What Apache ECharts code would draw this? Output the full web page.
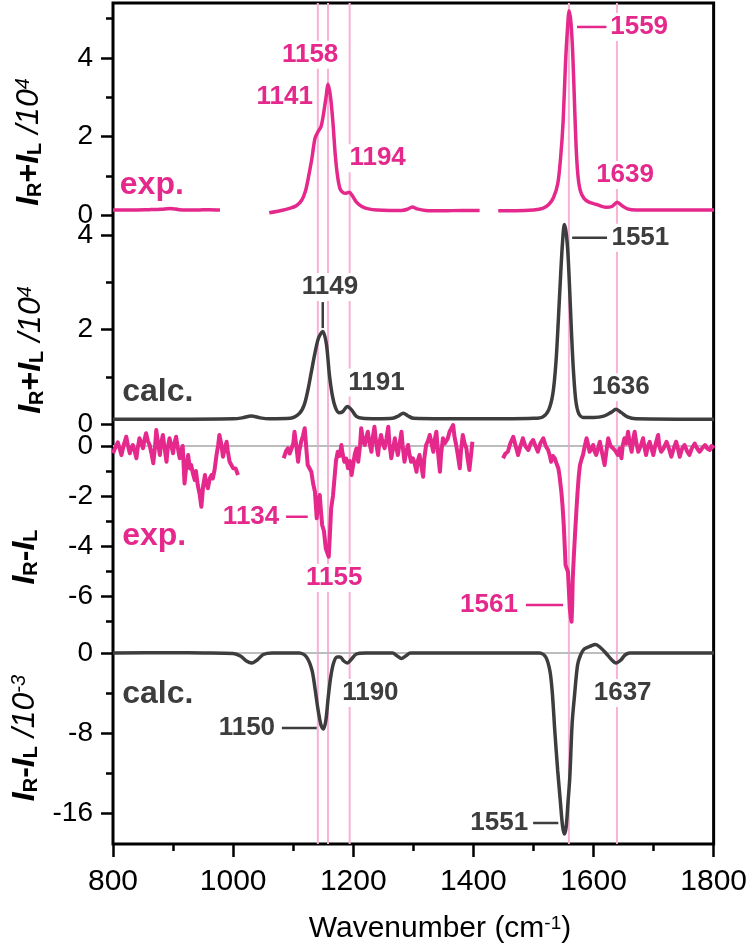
<!DOCTYPE html>
<html>
<head>
<meta charset="utf-8">
<script src="https://cdn.jsdelivr.net/npm/echarts@6/dist/echarts.min.js"></script>
<style>
html, body { margin: 0; padding: 0; background: #fff; }
#main { width: 750px; height: 947px; }
</style>
</head>
<body>
<div id="main"></div>
<script>
var expSumX = [800, 830, 860, 880, 895, 910, 940, 960, 978, 1020,
  1060, 1080, 1095, 1105, 1114, 1120, 1125, 1131, 1136, 1141, 1146, 1150, 1154, 1158, 1162, 1166, 1170, 1174, 1178,
  1183, 1188, 1193, 1198, 1205, 1214, 1225, 1240, 1260, 1280, 1290, 1298, 1306, 1320, 1350, 1380, 1410, 1425,
  1441, 1470, 1500, 1515, 1525, 1533, 1540, 1545, 1549, 1553, 1556, 1559, 1562, 1565, 1568, 1571, 1574, 1578,
  1584, 1592, 1605, 1620, 1630, 1639, 1647, 1656, 1670, 1700, 1750, 1800];
var expSumY = [0.13, 0.13, 0.14, 0.15, 0.17, 0.14, 0.13, 0.14, 0.13, null,
  0.06, 0.12, 0.18, 0.24, 0.38, 0.6, 0.95, 1.45, 1.95, 2.12, 2.25, 2.55, 2.95, 3.33, 3.0, 2.35, 1.5, 0.95, 0.66,
  0.57, 0.56, 0.58, 0.5, 0.33, 0.22, 0.16, 0.13, 0.12, 0.12, 0.15, 0.21, 0.16, 0.12, 0.11, 0.12, 0.12, null,
  0.11, 0.11, 0.13, 0.17, 0.27, 0.45, 0.8, 1.5, 2.4, 3.9, 4.7, 5.2, 4.9, 4.1, 2.8, 1.6, 0.95, 0.6,
  0.42, 0.33, 0.27, 0.2, 0.22, 0.33, 0.24, 0.16, 0.13, 0.13, 0.13, 0.13];

var calcSumX = [800, 900, 1000, 1015, 1030, 1045, 1060, 1095, 1110, 1118, 1124, 1130, 1136, 1142, 1149, 1155,
  1160, 1165, 1170, 1176, 1182, 1190, 1197, 1205, 1215, 1240, 1265, 1275, 1283, 1291, 1300, 1350, 1450, 1500,
  1515, 1525, 1532, 1537, 1541, 1545, 1548, 1551, 1554, 1557, 1560, 1563, 1566, 1570, 1575, 1582, 1600, 1615,
  1628, 1637, 1646, 1656, 1670, 1800];
var calcSumY = [0.1, 0.1, 0.11, 0.13, 0.17, 0.13, 0.11, 0.12, 0.22, 0.4, 0.7, 1.1, 1.5, 1.82, 1.96, 1.7,
  1.05, 0.6, 0.35, 0.24, 0.26, 0.37, 0.3, 0.16, 0.12, 0.11, 0.12, 0.17, 0.23, 0.17, 0.12, 0.11, 0.11, 0.12,
  0.15, 0.3, 0.65, 1.3, 2.2, 3.2, 3.85, 4.22, 4.05, 3.6, 2.8, 1.9, 1.15, 0.5, 0.22, 0.14, 0.14, 0.16,
  0.24, 0.31, 0.24, 0.15, 0.11, 0.1];

// experimental I_R - I_L, three measured segments as [wavenumber, value]
var expDiffSeg1 = [[800, -0.29], [804, -0.05], [808, 0.15], [811, -0.1], [814, -0.36], [818, 0.05], [822, 0.37],
  [825, 0], [828, -0.29], [830, -0.1], [833, 0.04], [836, -0.2], [839, -0.49], [841, -0.1], [844, 0.31],
  [847, 0.1], [850, -0.09], [852, 0.2], [855, 0.51], [858, 0.2], [861, 0.04], [864, -0.3], [867, -0.69],
  [870, 0], [872, 0.64], [875, 0.1], [878, -0.36], [880, 0.1], [883, 0.44], [886, -0.1], [889, -0.63],
  [891, -0.1], [894, 0.31], [897, 0], [900, -0.29], [902, 0.1], [905, 0.37], [908, -0.1], [911, -0.49],
  [913, -0.2], [916, 0], [919, -1.5], [922, -0.8], [925, -0.36], [928, -0.9], [930, -0.76], [933, -1.1],
  [936, -1.36], [938, -1.0], [941, -1.56], [944, -1.9], [947, -2.43], [950, -1.6], [953, -1.16], [955, -1.5],
  [958, -1.69], [961, -1.3], [964, -1.16], [966, -1.3], [969, -0.96], [972, -0.4], [975, 0.04], [977, 0.44],
  [980, 0.1], [983, -0.43], [986, -0.1], [989, 0.17], [991, -0.2], [994, -0.63], [997, -0.6], [1000, -0.89],
  [1004, -0.9], [1008, -1.16]];
var expDiffSeg2 = [[1084, -0.49], [1088, -0.2], [1091, -0.09], [1094, -0.3], [1097, -0.36], [1100, 0.1],
  [1102, 0.57], [1105, 0], [1108, -0.63], [1110, -0.2], [1113, 0.17], [1116, 0.4], [1119, 0.71], [1122, -0.2],
  [1124, -0.76], [1127, -0.7], [1130, -1.03], [1133, -1.5], [1136, -1.83], [1139, -2.89], [1141, -2.2],
  [1144, -1.96], [1146, -2.6], [1148, -3.16], [1151, -3.4], [1154, -4.09], [1157, -4.3], [1159, -4.43],
  [1161, -3.5], [1163, -2.49], [1166, -2.0], [1169, -1.16], [1171, -0.6], [1174, -0.23], [1177, -0.4],
  [1180, 0.04], [1182, -0.3], [1185, -0.63], [1188, -0.5], [1191, -0.89], [1194, -0.6], [1197, -1.16],
  [1200, -0.7], [1202, -0.36], [1205, -0.1], [1208, -0.63], [1211, 0], [1213, 0.71], [1216, 0.2], [1219, 0.04],
  [1221, 0.3], [1224, 0.57], [1227, 0.1], [1230, -0.23], [1232, 0.3], [1235, 0.77], [1238, 0.1], [1241, -0.36],
  [1243, 0.1], [1246, 0.44], [1249, 0.1], [1252, -0.09], [1255, 0.3], [1258, 0.77], [1260, 0.1], [1263, -0.49],
  [1266, -0.1], [1269, 0.31], [1271, 0], [1274, -0.36], [1277, 0.1], [1280, 0.57], [1282, 0], [1285, -0.63],
  [1288, -0.2], [1291, 0.04], [1293, -0.3], [1296, -0.63], [1299, -0.49], [1302, -0.7], [1305, -1.03],
  [1307, -0.6], [1310, -0.36], [1313, -0.8], [1316, -1.23], [1318, -0.5], [1321, 0.04], [1324, 0.2],
  [1327, 0.44], [1330, 0.1], [1333, -0.23], [1335, 0.2], [1338, 0.57], [1341, -0.3], [1344, -1.03],
  [1346, -0.3], [1349, 0.31], [1352, 0.1], [1355, 0.04], [1357, 0.3], [1360, 0.57], [1363, 0.6], [1366, 0.84],
  [1368, 0.4], [1371, 0.04], [1374, -0.4], [1377, -0.89], [1379, -0.2], [1382, 0.44], [1385, 0.1],
  [1388, -0.09], [1390, -0.5], [1393, -0.96], [1396, -0.3], [1398, 0.17]];
var expDiffSeg3 = [[1449, -0.49], [1453, -0.3], [1457, -0.23], [1461, 0.1], [1466, 0.37], [1470, 0],
  [1474, -0.36], [1478, 0], [1482, 0.31], [1486, 0], [1491, -0.16], [1495, 0.1], [1499, 0.24], [1503, 0],
  [1507, -0.23], [1511, 0.1], [1516, 0.31], [1520, 0], [1524, -0.16], [1527, -0.4], [1529, -0.63],
  [1532, -0.4], [1535, -0.49], [1538, -0.7], [1541, -0.89], [1543, -1.2], [1546, -1.83], [1548, -2.4],
  [1550, -3.16], [1552, -4.2], [1553, -4.76], [1555, -4.9], [1557, -5.03], [1559, -6.0], [1560, -6.49],
  [1562, -6.9], [1563, -7.03], [1564, -6.4], [1565, -5.29], [1567, -4.3], [1569, -3.43], [1571, -2.6],
  [1573, -1.83], [1575, -1.2], [1577, -0.76], [1580, -0.5], [1582, -0.36], [1585, 0], [1588, 0.31], [1591, 0],
  [1593, -0.23], [1596, -0.1], [1599, 0.04], [1601, -0.2], [1604, -0.36], [1607, -0.1], [1610, 0.17],
  [1614, -0.3], [1618, -0.76], [1621, -0.2], [1624, 0.31], [1628, 0], [1632, -0.09], [1636, -0.2],
  [1640, -0.36], [1643, -0.1], [1646, -0.49], [1648, 0], [1651, 0.31], [1654, 0.1], [1657, 0.57], [1660, 0.1],
  [1663, -0.23], [1665, 0.2], [1668, 0.57], [1671, 0.1], [1674, -0.23], [1678, 0], [1682, 0.31], [1684, 0],
  [1687, -0.36], [1690, 0], [1693, 0.17], [1696, -0.1], [1699, -0.36], [1703, 0.1], [1707, 0.44], [1709, 0],
  [1712, -0.23], [1716, -0.1], [1721, 0.17], [1725, -0.1], [1729, -0.43], [1733, -0.1], [1737, 0.17],
  [1740, -0.1], [1743, -0.43], [1747, -0.1], [1751, 0.04], [1755, -0.2], [1759, -0.36], [1763, -0.1],
  [1768, 0.1], [1772, -0.1], [1776, -0.23], [1780, -0.1], [1785, 0.04], [1789, -0.1], [1793, -0.16],
  [1796, 0], [1800, -0.09]];

var calcDiffX = [800, 900, 950, 1000, 1012, 1022, 1031, 1040, 1050, 1065, 1110, 1122, 1131, 1136, 1141, 1146, 1150,
  1154, 1158, 1162, 1167, 1173, 1178, 1184, 1190, 1197, 1205, 1220, 1265, 1273, 1280, 1287, 1295, 1400, 1510,
  1520, 1527, 1531, 1535, 1540, 1544, 1548, 1551, 1554, 1557, 1560, 1564, 1568, 1573, 1578, 1584, 1595, 1603,
  1610, 1620, 1630, 1637, 1645, 1652, 1660, 1800];
var calcDiffY = [0, 0.02, 0, -0.05, -0.3, -0.8, -1.0, -0.7, -0.15, 0, 0, -0.4, -1.7, -3.5, -5.6, -7.2, -7.6,
  -6.8, -4.5, -2.5, -1.0, -0.4, -0.4, -0.8, -1.0, -0.6, -0.1, 0, 0, -0.3, -0.55, -0.3, 0, 0, 0,
  -0.4, -1.8, -4.0, -7.7, -11.8, -14.6, -17.3, -18.1, -17.4, -15.0, -12.5, -7.0, -4.2, -1.2, -0.2, 0.4, 0.7, 0.85,
  0.6, 0.0, -0.7, -1.0, -0.7, -0.2, 0, 0];

var markerX = [1141, 1158, 1194, 1559, 1639];

// y ticks per panel
var p1Major = [0, 2, 4], p1Minor = [1, 3, 5];
var p2Major = [0, 2, 4], p2Minor = [1, 3];
var p3Major = [0, -2, -4, -6], p3Minor = [-1, -3, -5, -7];
var p4Major = [0, -8, -16], p4Minor = [-4, -12];

var PINK = '#e5288b', DARK = '#3d3d3d', VLINE = '#f8b2d5', ZERO = '#bdbdbd';
var FONT = '"Liberation Sans", Arial, Helvetica, sans-serif';

function pairs(xs, ys) {
    return xs.map(function (x, i) { return [x, ys[i]]; });
}

function yPair(grid, min, max, major, minor) {
    return [
        {
            gridIndex: grid, type: 'value', position: 'left', min: min, max: max,
            axisLine: { show: false }, splitLine: { show: false },
            axisTick: { show: true, length: 12, customValues: major, lineStyle: { color: '#000', width: 2.5 } },
            axisLabel: { customValues: major, fontSize: 28, color: '#000', margin: 20, fontFamily: FONT }
        },
        {
            gridIndex: grid, type: 'value', position: 'left', min: min, max: max,
            axisLine: { show: false }, splitLine: { show: false },
            axisTick: { show: true, length: 7, customValues: minor, lineStyle: { color: '#000', width: 2.5 } },
            axisLabel: { show: false }
        }
    ];
}

function hiddenX(grid) {
    return { gridIndex: grid, type: 'value', min: 800, max: 1800, show: false };
}

var chart = echarts.init(document.getElementById('main'));

var grids = [
    { left: 113, width: 601, top: 3, height: 841, show: true, borderColor: '#000', borderWidth: 3, backgroundColor: '#fff' },
    { left: 113, width: 601, top: 3, height: 220 },
    { left: 113, width: 601, top: 216.1, height: 217.35 },
    { left: 113, width: 601, top: 416, height: 225 },
    { left: 113, width: 601, top: 633, height: 211 }
];

var xAxes = [
    {
        gridIndex: 0, type: 'value', min: 800, max: 1800, interval: 200,
        axisLine: { show: false }, splitLine: { show: false },
        axisTick: { show: true, length: 13, lineStyle: { color: '#000', width: 2.5 } },
        minorTick: { show: true, splitNumber: 2, length: 7, lineStyle: { color: '#000', width: 2.5 } },
        axisLabel: { fontSize: 30, color: '#000', margin: 23, fontFamily: FONT,
                     formatter: function (v) { return String(v); } }
    },
    hiddenX(1), hiddenX(2), hiddenX(3), hiddenX(4)
];

var yAxes = [{ gridIndex: 0, type: 'value', min: 0, max: 1, show: false }]
    .concat(yPair(1, -0.2, 5.4, p1Major, p1Minor))
    .concat(yPair(2, -0.2, 4.4, p2Major, p2Minor))
    .concat(yPair(3, -7.8, 1.2, p3Major, p3Minor))
    .concat(yPair(4, -19.1, 2, p4Major, p4Minor));

var series = [];
markerX.forEach(function (w) {
    series.push({
        type: 'line', xAxisIndex: 0, yAxisIndex: 0, data: [[w, 0], [w, 1]],
        symbol: 'none', silent: true, z: 0, lineStyle: { color: VLINE, width: 2 }
    });
});
// zero reference lines
[[3, 5], [4, 7]].forEach(function (p) {
    series.push({
        type: 'line', xAxisIndex: p[0], yAxisIndex: p[1], data: [[800, 0], [1800, 0]],
        symbol: 'none', silent: true, z: 1, lineStyle: { color: ZERO, width: 2 }
    });
});
series.push(
    { type: 'line', name: 'exp sum', xAxisIndex: 1, yAxisIndex: 1, data: pairs(expSumX, expSumY),
      symbol: 'none', smooth: 0.3, lineStyle: { color: PINK, width: 3.5 }, z: 3 },
    { type: 'line', name: 'calc sum', xAxisIndex: 2, yAxisIndex: 3, data: pairs(calcSumX, calcSumY),
      symbol: 'none', smooth: 0.3, lineStyle: { color: DARK, width: 3.5 }, z: 3 },
    { type: 'line', name: 'calc diff', xAxisIndex: 4, yAxisIndex: 7, data: pairs(calcDiffX, calcDiffY),
      symbol: 'none', smooth: 0.3, lineStyle: { color: DARK, width: 3.5 }, z: 3 }
);
[expDiffSeg1, expDiffSeg2, expDiffSeg3].forEach(function (seg) {
    series.push({ type: 'line', name: 'exp diff', xAxisIndex: 3, yAxisIndex: 5, data: seg,
      symbol: 'none', lineStyle: { color: PINK, width: 4, join: 'round' }, z: 3 });
});

chart.setOption({
    animation: false,
    backgroundColor: '#fff',
    grid: grids,
    xAxis: xAxes,
    yAxis: yAxes,
    series: series
});

// annotations in data coordinates: panel, wavenumber, value
var notes = [
    { g: 1, x: 1128, y: 4.08, t: '1158', a: 'center', c: PINK },
    { g: 1, x: 1136, y: 3.0, t: '1141', a: 'right', c: PINK },
    { g: 1, x: 1190, y: 1.45, t: '1194', a: 'left', c: PINK },
    { g: 1, x: 1624, y: 4.79, t: '1559', a: 'left', c: PINK },
    { g: 1, x: 1652, y: 1.02, t: '1639', a: 'center', c: PINK },
    { g: 1, x: 808, y: 0.76, t: 'exp.', a: 'left', c: PINK, big: true },
    { g: 2, x: 1161, y: 2.9, t: '1149', a: 'center', c: DARK },
    { g: 2, x: 1188, y: 0.88, t: '1191', a: 'left', c: DARK },
    { g: 2, x: 1626, y: 3.94, t: '1551', a: 'left', c: DARK },
    { g: 2, x: 1645, y: 0.78, t: '1636', a: 'center', c: DARK },
    { g: 2, x: 812, y: 0.68, t: 'calc.', a: 'left', c: DARK, big: true },
    { g: 3, x: 812, y: -3.6, t: 'exp.', a: 'left', c: PINK, big: true },
    { g: 3, x: 1080, y: -2.83, t: '1134', a: 'right', c: PINK },
    { g: 3, x: 1168, y: -5.28, t: '1155', a: 'center', c: PINK },
    { g: 3, x: 1477, y: -6.36, t: '1561', a: 'right', c: PINK },
    { g: 4, x: 812, y: -4.1, t: 'calc.', a: 'left', c: DARK, big: true },
    { g: 4, x: 1073, y: -7.5, t: '1150', a: 'right', c: DARK },
    { g: 4, x: 1178, y: -4.0, t: '1190', a: 'left', c: DARK },
    { g: 4, x: 1648, y: -4.0, t: '1637', a: 'center', c: DARK },
    { g: 4, x: 1494, y: -17.0, t: '1551', a: 'right', c: DARK }
];
var leaders = [
    { g: 1, x1: 1572, y1: 4.79, x2: 1621, y2: 4.79, c: PINK },
    { g: 2, x1: 1149, y1: 2.58, x2: 1149, y2: 2.03, c: DARK },
    { g: 2, x1: 1564, y1: 3.94, x2: 1622, y2: 3.94, c: DARK },
    { g: 3, x1: 1088, y1: -2.83, x2: 1124, y2: -2.83, c: PINK },
    { g: 3, x1: 1487, y1: -6.36, x2: 1549, y2: -6.36, c: PINK },
    { g: 4, x1: 1081, y1: -7.5, x2: 1139, y2: -7.5, c: DARK },
    { g: 4, x1: 1499, y1: -17.0, x2: 1541, y2: -17.0, c: DARK }
];

function toPx(g, x, y) {
    return chart.convertToPixel({ xAxisIndex: g, yAxisIndex: 2 * g - 1 }, [x, y]);
}

var graphics = [];
notes.forEach(function (n) {
    var p = toPx(n.g, n.x, n.y);
    graphics.push({
        type: 'text', z: 1, silent: true,
        style: {
            text: n.t, x: p[0], y: p[1], fill: n.c,
            fontSize: n.big ? 32 : 26, fontWeight: 'bold', fontFamily: FONT,
            align: n.a, verticalAlign: 'middle', textAlign: n.a, textVerticalAlign: 'middle',
            backgroundColor: n.big ? 'transparent' : '#fff', padding: [1, 2]
        }
    });
});
leaders.forEach(function (l) {
    var a = toPx(l.g, l.x1, l.y1), b = toPx(l.g, l.x2, l.y2);
    graphics.push({
        type: 'line', z: 1, silent: true,
        shape: { x1: a[0], y1: a[1], x2: b[0], y2: b[1] },
        style: { stroke: l.c, lineWidth: 2.5 }
    });
});

// y-axis titles (rotated, with sub/superscripts)
var titleRich = {
    b: { fontSize: 32, fontWeight: 'bold', fontStyle: 'italic', lineHeight: 32, fontFamily: FONT, fill: '#000' },
    o: { fontSize: 32, fontWeight: 'bold', lineHeight: 32, fontFamily: FONT, fill: '#000' },
    s: { fontSize: 20, fontWeight: 'bold', lineHeight: 13, verticalAlign: 'bottom', fontFamily: FONT, fill: '#000' },
    n: { fontSize: 32, fontStyle: 'italic', lineHeight: 32, fontFamily: FONT, fill: '#000' },
    p: { fontSize: 20, fontStyle: 'italic', lineHeight: 14, verticalAlign: 'top', fontFamily: FONT, fill: '#000' }
};
var yTitles = [
    { x: 29, y: 142, t: '{b|I}{s|R}{o|+}{b|I}{s|L}{n| /10}{p|4}' },
    { x: 31, y: 350, t: '{b|I}{s|R}{o|+}{b|I}{s|L}{n| /10}{p|4}' },
    { x: 25, y: 557, t: '{b|I}{s|R}{o|-}{b|I}{s|L}' },
    { x: 25, y: 738, t: '{b|I}{s|R}{o|-}{b|I}{s|L}{n| /10}{p|-3}' }
];
yTitles.forEach(function (t) {
    graphics.push({
        type: 'text', x: t.x, y: t.y, rotation: Math.PI / 2, silent: true,
        style: {
            text: t.t, rich: titleRich, fill: '#000', fontFamily: FONT,
            align: 'center', verticalAlign: 'middle', textAlign: 'center', textVerticalAlign: 'middle'
        }
    });
});
graphics.push({
    type: 'text', x: 440, y: 929, silent: true,
    style: {
        text: 'Wavenumber (cm{p|-1})', fill: '#000', fontSize: 30, fontFamily: FONT,
        align: 'center', verticalAlign: 'middle', textAlign: 'center', textVerticalAlign: 'middle',
        rich: { p: { fontSize: 19, lineHeight: 14, verticalAlign: 'top', fontFamily: FONT, fill: '#000' } }
    }
});

chart.setOption({ graphic: graphics });
</script>
</body>
</html>
